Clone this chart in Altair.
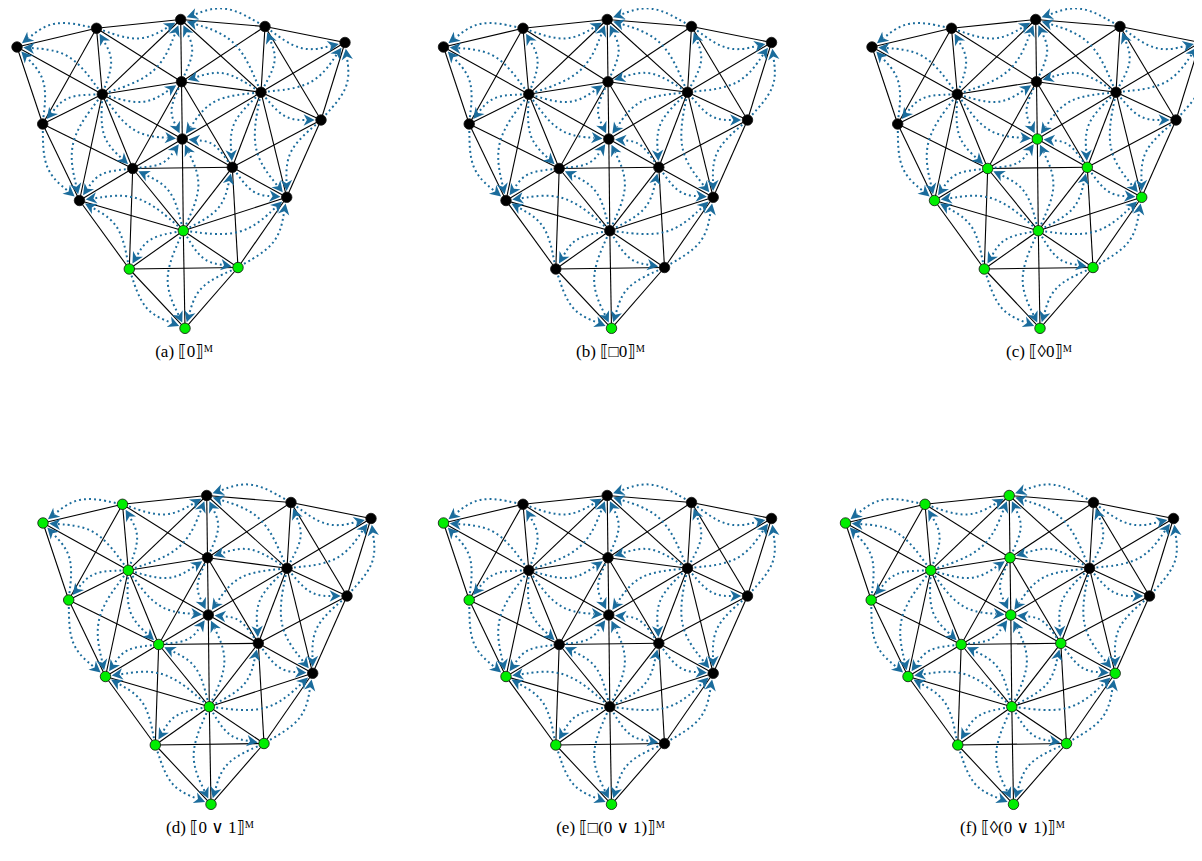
import math
import altair as alt
import pandas as pd

# ---------------- data ----------------
# node positions of the graph in panel (a) (pixel units, y downwards)
node_x = [17.0, 96.5, 180.7, 265.0, 345.0, 102.3, 181.5, 261.0, 42.7, 321.0,
          182.3, 132.7, 232.3, 79.5, 286.7, 183.3, 129.3, 238.0, 185.0]
node_y = [47.0, 28.3, 19.5, 26.5, 42.5, 94.3, 81.7, 92.3, 124.0, 120.0,
          139.0, 168.5, 167.3, 200.5, 197.3, 230.7, 269.0, 267.5, 328.3]

# black (undirected) edges, 1-based node ids
edge_a = [1, 1, 1, 2, 2, 2, 2, 3, 3, 3, 3, 4, 4, 4, 4, 5, 5, 6, 6, 6, 6, 6, 7, 7, 7, 7,
          8, 8, 8, 8, 9, 9, 10, 10, 11, 11, 11, 12, 12, 12, 12, 13, 13, 13, 14, 14,
          15, 15, 16, 16, 16, 17, 17, 18]
edge_b = [2, 6, 9, 3, 6, 7, 9, 4, 6, 7, 8, 5, 7, 8, 10, 8, 10, 7, 9, 11, 12, 14, 8, 11, 12, 13,
          10, 11, 13, 15, 12, 14, 13, 15, 12, 13, 16, 13, 14, 16, 17, 15, 16, 18, 16, 17,
          16, 18, 17, 18, 19, 18, 19, 19]

# blue dotted arrows (source -> target), 1-based node ids
arc_src = [6, 6, 6, 6, 6, 6, 6, 6,
           8, 8, 8, 8, 8, 8, 8, 8,
           16, 16, 16, 16, 16, 16, 16, 16,
           2, 2, 4, 4, 7, 7, 9, 9, 10, 10, 12, 12, 13, 13, 17, 17, 18, 18]
arc_dst = [1, 2, 3, 7, 9, 11, 12, 14,
           3, 4, 5, 7, 10, 11, 13, 15,
           11, 12, 13, 14, 15, 17, 18, 19,
           1, 3, 3, 5, 3, 11, 1, 14, 5, 15, 11, 14, 11, 15, 14, 19, 15, 19]

# panel placement and truth sets
panel_dx = [0.0, 426.5, 855.0, 26.0, 426.5, 828.5]
panel_dy = [0.0, 0.0, 0.0, 476.0, 476.0, 476.0]
green_sets = [
    [16, 17, 18, 19],
    [19],
    [11, 12, 13, 14, 15, 16, 17, 18, 19],
    [1, 2, 6, 9, 12, 14, 16, 17, 18, 19],
    [1, 9, 14, 17, 19],
    [1, 2, 3, 6, 7, 9, 11, 12, 13, 14, 15, 16, 17, 18, 19],
]
captions = ["(a)  ⟦0⟧ᴹ", "(b)  ⟦□0⟧ᴹ", "(c)  ⟦◊0⟧ᴹ",
            "(d)  ⟦0 ∨ 1⟧ᴹ", "(e)  ⟦□(0 ∨ 1)⟧ᴹ", "(f)  ⟦◊(0 ∨ 1)⟧ᴹ"]

# ---------------- build tables ----------------
OX, OY = 8.0, 8.0  # page margin offset (data = screen pixels)

nodes_rows, edge_rows, line_rows, arrow_rows, cap_rows = [], [], [], [], []
BEND = 0.23
R_START, R_TIP, HEAD = 7.0, 6.3, 6.0

for p in range(6):
    dx, dy = panel_dx[p], panel_dy[p]
    px = [v + dx for v in node_x]
    py = [v + dy for v in node_y]
    for i in range(len(px)):
        nodes_rows.append({"x": px[i], "y": py[i],
                           "state": "on" if (i + 1) in green_sets[p] else "off"})
    for a, b in zip(edge_a, edge_b):
        edge_rows.append({"x": px[a - 1], "y": py[a - 1], "x2": px[b - 1], "y2": py[b - 1]})
    for k, (s, t) in enumerate(zip(arc_src, arc_dst)):
        x0, y0 = px[s - 1], py[s - 1]
        x2, y2 = px[t - 1], py[t - 1]
        ddx, ddy = x2 - x0, y2 - y0
        L = math.hypot(ddx, ddy)
        nx, ny = -ddy / L, ddx / L
        cx = (x0 + x2) / 2 + BEND * L * nx
        cy = (y0 + y2) / 2 + BEND * L * ny
        ux0, uy0 = cx - x0, cy - y0
        l0 = math.hypot(ux0, uy0)
        sx, sy = x0 + R_START * ux0 / l0, y0 + R_START * uy0 / l0
        ux, uy = x2 - cx, y2 - cy
        l1 = math.hypot(ux, uy)
        ux, uy = ux / l1, uy / l1
        tx, ty = x2 - R_TIP * ux, y2 - R_TIP * uy
        ex, ey = tx - 1.4 * HEAD * ux, ty - 1.4 * HEAD * uy
        aid = f"{p}-{k}"
        for j, (qx, qy) in enumerate([(sx, sy), (cx, cy), (ex, ey)]):
            line_rows.append({"arc": aid, "k": j, "x": qx, "y": qy})
        ang = math.degrees(math.atan2(ux, -uy)) % 360
        arrow_rows.append({"x": tx - HEAD * ux, "y": ty - HEAD * uy, "ang": ang})
    cap_rows.append({"x": dx + 184.0, "y": dy + 352.0, "text": captions[p]})

nodes_df = pd.DataFrame(nodes_rows)
edges_df = pd.DataFrame(edge_rows)
lines_df = pd.DataFrame(line_rows)
arrows_df = pd.DataFrame(arrow_rows)
caps_df = pd.DataFrame(cap_rows)

W, H = 1186, 845
xs = alt.Scale(domain=[OX, OX + W], nice=False, zero=False)
ys = alt.Scale(domain=[OY, OY + H], nice=False, zero=False, reverse=True)
X = lambda f="x": alt.X(f"{f}:Q", scale=xs, axis=None)
Y = lambda f="y": alt.Y(f"{f}:Q", scale=ys, axis=None)

BLUE = "#1b6c9c"

edges = alt.Chart(edges_df).mark_rule(color="black", strokeWidth=1.1).encode(
    x=X(), y=Y(), x2="x2:Q", y2="y2:Q")

arcs = alt.Chart(lines_df).mark_line(
    interpolate="basis", color=BLUE, strokeWidth=2.0,
    strokeDash=[1.9, 3.1], clip=True).encode(
    x=X(), y=Y(), detail="arc:N", order="k:Q")

ARROW = "M0,-1 L0.95,0.85 L0,0.3 L-0.95,0.85 Z"
arrows = alt.Chart(arrows_df).mark_point(
    shape=ARROW, filled=True, size=(2 * HEAD) ** 2, color=BLUE, opacity=1,
    strokeWidth=0, clip=True).encode(
    x=X(), y=Y(), angle=alt.Angle("ang:Q", scale=None))

nodes = alt.Chart(nodes_df).mark_circle(
    size=110, opacity=1, stroke="#111111", strokeWidth=0.8, clip=True).encode(
    x=X(), y=Y(),
    fill=alt.Fill("state:N", scale=alt.Scale(domain=["on", "off"],
                                             range=["#00ee00", "#000000"]), legend=None))

caps = alt.Chart(caps_df).mark_text(
    font="'Liberation Serif', 'DejaVu Serif', 'DejaVu Sans', serif", fontSize=17,
    color="black", align="center", baseline="middle").encode(
    x=X(), y=Y(), text="text:N")

chart = alt.layer(edges, arcs, arrows, nodes, caps).properties(
    width=W, height=H, padding=0, autosize=alt.AutoSizeParams(type="none")
).configure_view(stroke=None)

chart.save("out.html", embed_options={"renderer": "svg", "actions": False})
